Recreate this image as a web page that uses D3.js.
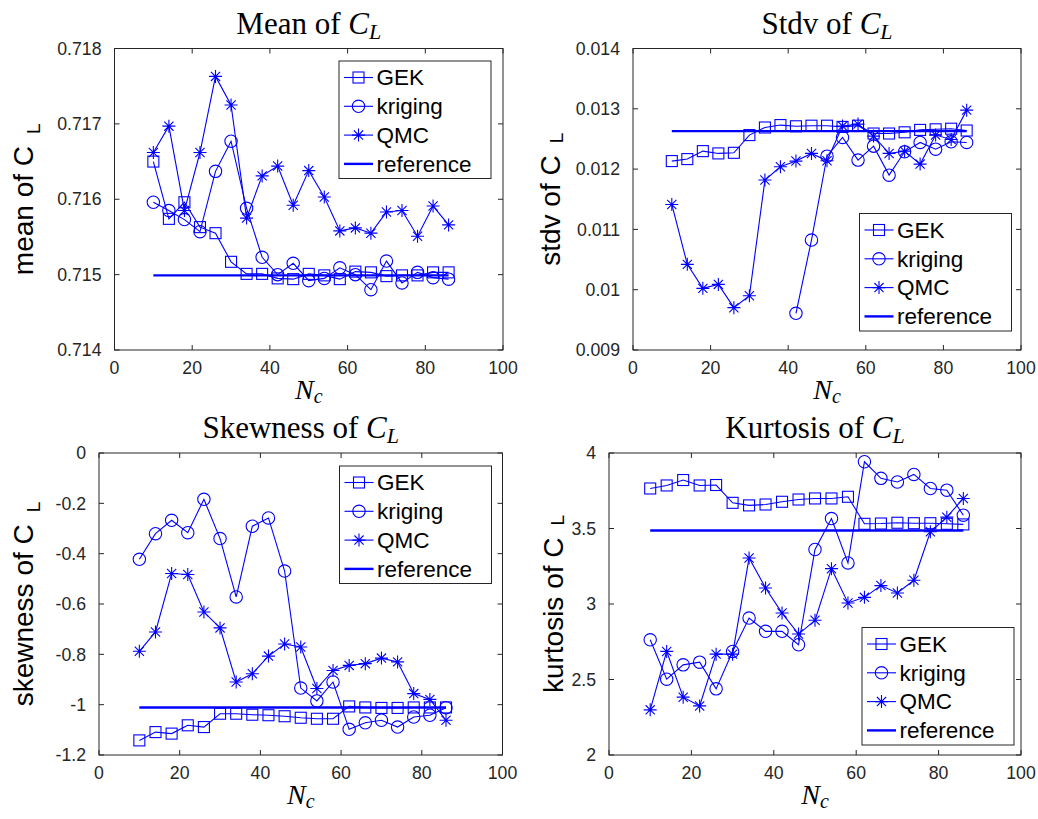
<!DOCTYPE html>
<html>
<head>
<meta charset="utf-8">
<script src="https://cdn.jsdelivr.net/npm/d3@7/dist/d3.min.js"></script>
<style>
  html, body { margin: 0; padding: 0; background: #fff; }
  svg { display: block; }
</style>
</head>
<body>
<script>
// Sample counts N_c shared by every panel
const nc = [10, 14, 18, 22, 26, 30, 34, 38, 42, 46, 50, 54, 58, 62, 66, 70, 74, 78, 82, 86];

// Mean of C_L
const meanGEK     = [0.71650, 0.71574, 0.71596, 0.71563, 0.71555, 0.71517, 0.71501, 0.71501, 0.71495, 0.71494, 0.71501, 0.71499, 0.71494, 0.71504, 0.71503, 0.71498, 0.71499, 0.71499, 0.71503, 0.71503];
const meanKriging = [0.71596, 0.71585, 0.71573, 0.71557, 0.71637, 0.71677, 0.71588, 0.71523, 0.71500, 0.71515, 0.71492, 0.71495, 0.71509, 0.71500, 0.71480, 0.71518, 0.71489, 0.71503, 0.71496, 0.71494];
const meanQMC     = [0.71662, 0.71697, 0.71585, 0.71662, 0.71763, 0.71725, 0.71575, 0.71631, 0.71644, 0.71592, 0.71638, 0.71603, 0.71558, 0.71562, 0.71555, 0.71583, 0.71585, 0.71551, 0.71591, 0.71566];
const meanReference = 0.71499;
const meanTicks = [0.714, 0.715, 0.716, 0.717, 0.718];

// Standard deviation of C_L
const stdvGEK     = [0.012133, 0.012166, 0.012298, 0.012260, 0.012270, 0.012564, 0.012690, 0.012730, 0.012710, 0.012720, 0.012720, 0.012700, 0.012720, 0.012590, 0.012590, 0.012610, 0.012650, 0.012660, 0.012670, 0.012640];
const stdvKriging = [null, null, null, null, null, null, null, null, 0.009608, 0.010823, 0.012215, 0.012525, 0.012149, 0.012381, 0.011900, 0.012287, 0.012442, 0.012331, 0.012453, 0.012442];
const stdvQMC     = [0.011414, 0.010420, 0.010022, 0.010088, 0.009702, 0.009900, 0.011818, 0.012039, 0.012133, 0.012260, 0.012138, 0.012713, 0.012746, 0.012547, 0.012260, 0.012298, 0.012083, 0.012564, 0.012492, 0.012978];
const stdvReference = 0.01263;
const stdvTicks = [0.009, 0.010, 0.011, 0.012, 0.013, 0.014];

// Skewness of C_L
const skewGEK     = [-1.142, -1.109, -1.115, -1.082, -1.089, -1.036, -1.036, -1.040, -1.042, -1.046, -1.052, -1.056, -1.056, -1.007, -1.011, -1.013, -1.013, -1.011, -1.011, -1.011];
const skewKriging = [-0.4225, -0.3205, -0.2675, -0.3165, -0.184, -0.340, -0.572, -0.291, -0.258, -0.469, -0.934, -0.985, -0.910, -1.098, -1.072, -1.062, -1.089, -1.049, -1.042, -1.012];
const skewQMC     = [-0.788, -0.711, -0.479, -0.483, -0.632, -0.695, -0.910, -0.877, -0.807, -0.759, -0.771, -0.936, -0.864, -0.844, -0.837, -0.815, -0.830, -0.956, -0.979, -1.062];
const skewReference = -1.011;
const skewTicks = [-1.2, -1, -0.8, -0.6, -0.4, -0.2, 0];

// Kurtosis of C_L
const kurtGEK     = [3.765, 3.785, 3.821, 3.785, 3.788, 3.670, 3.653, 3.659, 3.677, 3.692, 3.699, 3.699, 3.710, 3.531, 3.533, 3.538, 3.535, 3.535, 3.531, 3.527];
const kurtKriging = [2.763, 2.502, 2.597, 2.615, 2.438, 2.686, 2.907, 2.819, 2.819, 2.730, 3.361, 3.566, 3.272, 3.942, 3.832, 3.808, 3.858, 3.765, 3.754, 3.588];
const kurtQMC     = [2.299, 2.686, 2.383, 2.325, 2.668, 2.668, 3.305, 3.106, 2.940, 2.801, 2.892, 3.234, 3.007, 3.044, 3.122, 3.073, 3.157, 3.478, 3.575, 3.699];
const kurtReference = 3.487;
const kurtTicks = [2, 2.5, 3, 3.5, 4];

const xTicks = [0, 20, 40, 60, 80, 100];
const seriesNames = ["GEK", "kriging", "QMC", "reference"];

// ---- layout and styling ----
const W = 1038, H = 819;
const BLUE = "#0000ff";
const AXIS = "#262626";

const panels = [
  { title: "Mean of ",     ylab: "mean of C",     ticks: meanTicks, series: [meanGEK, meanKriging, meanQMC], ref: meanReference,
    box: { l: 114.5, r: 503, t: 48.5, b: 350 }, ylabX: 33,  ylabDy: 7, legend: { x: 339, y: 61 } },
  { title: "Stdv of ",     ylab: "stdv of C",     ticks: stdvTicks, series: [stdvGEK, stdvKriging, stdvQMC], ref: stdvReference,
    box: { l: 633, r: 1021, t: 48.5, b: 350 }, ylabX: 560, ylabDy: 3, legend: { x: 859.5, y: 213.5 } },
  { title: "Skewness of ", ylab: "skewness of C", ticks: skewTicks, series: [skewGEK, skewKriging, skewQMC], ref: skewReference,
    box: { l: 99, r: 502.5, t: 453, b: 755 }, ylabX: 33,  ylabDy: 7, legend: { x: 339.5, y: 466 } },
  { title: "Kurtosis of ", ylab: "kurtosis of C", ticks: kurtTicks, series: [kurtGEK, kurtKriging, kurtQMC], ref: kurtReference,
    box: { l: 609, r: 1021, t: 453, b: 755 }, ylabX: 563, ylabDy: 1, legend: { x: 862, y: 627.5 } }
];

const svg = d3.select("body").append("svg")
  .attr("width", W).attr("height", H)
  .attr("viewBox", `0 0 ${W} ${H}`);

const fmt = v => String(+v.toFixed(4));

// marker painters, drawn centred on (0,0)
function drawMarker(g, kind) {
  if (kind === 0) {
    g.append("rect").attr("x", -5.5).attr("y", -5.5).attr("width", 11).attr("height", 11)
      .attr("fill", "none").attr("stroke", BLUE).attr("stroke-width", 1.1);
  } else if (kind === 1) {
    g.append("circle").attr("r", 6.2)
      .attr("fill", "none").attr("stroke", BLUE).attr("stroke-width", 1.1);
  } else if (kind === 2) {
    const a = 6.5, d = 4.6;
    g.append("path")
      .attr("d", `M${-a},0H${a}M0,${-a}V${a}M${-d},${-d}L${d},${d}M${-d},${d}L${d},${-d}`)
      .attr("fill", "none").attr("stroke", BLUE).attr("stroke-width", 1.1);
  }
}

panels.forEach(p => {
  const { l, r, t, b } = p.box;
  const yDom = d3.extent(p.ticks);
  const x = d3.scaleLinear().domain([0, 100]).range([l, r]);
  const y = d3.scaleLinear().domain(yDom).range([b, t]);
  const g = svg.append("g");

  // axes box
  g.append("rect").attr("x", l).attr("y", t).attr("width", r - l).attr("height", b - t)
    .attr("fill", "#fff").attr("stroke", AXIS).attr("stroke-width", 1);

  // inward ticks on all four sides
  const tk = 5;
  const tickG = g.append("g").attr("stroke", AXIS).attr("stroke-width", 1);
  xTicks.forEach(v => {
    const px = x(v);
    tickG.append("line").attr("x1", px).attr("x2", px).attr("y1", b).attr("y2", b - tk);
    tickG.append("line").attr("x1", px).attr("x2", px).attr("y1", t).attr("y2", t + tk);
  });
  p.ticks.forEach(v => {
    const py = y(v);
    tickG.append("line").attr("x1", l).attr("x2", l + tk).attr("y1", py).attr("y2", py);
    tickG.append("line").attr("x1", r).attr("x2", r - tk).attr("y1", py).attr("y2", py);
  });

  // tick labels
  const tl = g.append("g").attr("font-family", "'Liberation Sans', Arial, sans-serif")
    .attr("font-size", 17.7).attr("fill", AXIS);
  xTicks.forEach(v => {
    tl.append("text").attr("x", x(v)).attr("y", b + 23.5).attr("text-anchor", "middle").text(fmt(v));
  });
  p.ticks.forEach(v => {
    tl.append("text").attr("x", l - 13).attr("y", y(v)).attr("dy", "0.35em")
      .attr("text-anchor", "end").text(fmt(v));
  });

  // title: "<Name> of C_L"
  const title = g.append("text").attr("x", (l + r) / 2).attr("y", t - 15)
    .attr("text-anchor", "middle").attr("font-family", "'Liberation Serif', 'Times New Roman', serif")
    .attr("font-size", 31).attr("fill", "#000");
  title.append("tspan").text(p.title);
  title.append("tspan").attr("font-style", "italic").text("C");
  title.append("tspan").attr("font-style", "italic").attr("font-size", 22).attr("dy", 5).text("L");

  // x label N_c
  const xl = g.append("text").attr("x", (l + r) / 2).attr("y", b + 49)
    .attr("text-anchor", "middle").attr("font-family", "'Liberation Serif', 'Times New Roman', serif")
    .attr("font-size", 28).attr("font-style", "italic").attr("fill", "#000");
  xl.append("tspan").text("N");
  xl.append("tspan").attr("font-size", 20).attr("dy", 4).text("c");

  // y label
  const yl = g.append("text")
    .attr("transform", `translate(${p.ylabX},${(t + b) / 2}) rotate(-90)`)
    .attr("text-anchor", "middle").attr("font-family", "'Liberation Sans', Arial, sans-serif")
    .attr("font-size", 28).attr("fill", "#000");
  yl.append("tspan").text(p.ylab);
  yl.append("tspan").attr("font-size", 19).attr("dx", 12).attr("dy", p.ylabDy).text("L");

  // data series
  const line = d3.line().defined(d => d[1] != null).x(d => x(d[0])).y(d => y(d[1]));
  p.series.forEach((vals, k) => {
    const pts = nc.map((n, i) => [n, vals[i]]);
    g.append("path").datum(pts).attr("d", line)
      .attr("fill", "none").attr("stroke", BLUE).attr("stroke-width", 1.1);
    pts.filter(d => d[1] != null).forEach(d => {
      drawMarker(g.append("g").attr("transform", `translate(${x(d[0])},${y(d[1])})`), k);
    });
  });

  // reference level
  g.append("line")
    .attr("x1", x(nc[0])).attr("x2", x(nc[nc.length - 1]))
    .attr("y1", y(p.ref)).attr("y2", y(p.ref))
    .attr("stroke", BLUE).attr("stroke-width", 2.4);

  // legend
  const lg = g.append("g").attr("transform", `translate(${p.legend.x},${p.legend.y})`);
  lg.append("rect").attr("width", 152).attr("height", 117.5)
    .attr("fill", "#fff").attr("stroke", AXIS).attr("stroke-width", 1);
  seriesNames.forEach((name, k) => {
    const ey = 16.5 + k * 28.8;
    lg.append("line").attr("x1", 5).attr("x2", 34).attr("y1", ey).attr("y2", ey)
      .attr("stroke", BLUE).attr("stroke-width", k === 3 ? 2.4 : 1.1);
    if (k < 3) drawMarker(lg.append("g").attr("transform", `translate(19.5,${ey})`), k);
    lg.append("text").attr("x", 37.5).attr("y", ey).attr("dy", "0.35em")
      .attr("font-family", "'Liberation Sans', Arial, sans-serif").attr("font-size", 22.5)
      .attr("fill", "#000").text(name);
  });
});
</script>
</body>
</html>
